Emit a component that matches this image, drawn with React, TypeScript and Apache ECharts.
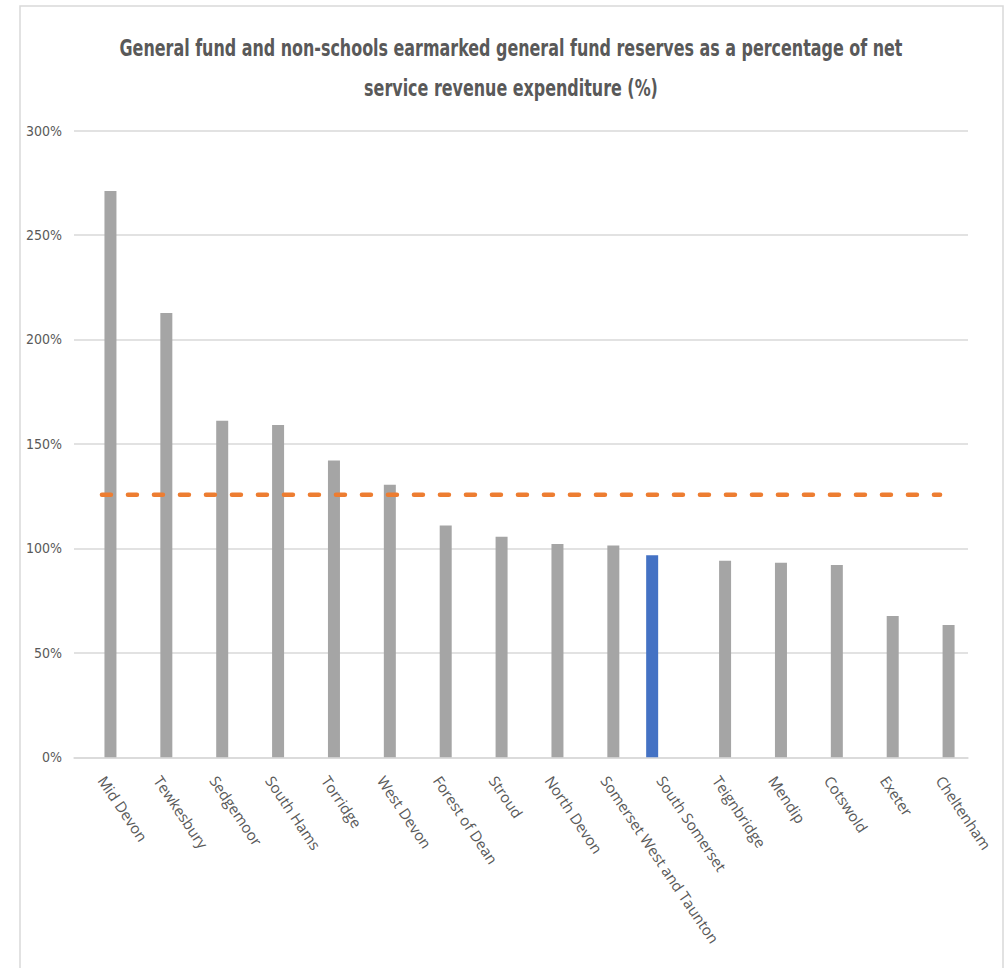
import React, { useEffect, useRef } from "react";
import * as echarts from "echarts";

const categories = [
  "Mid Devon", "Tewkesbury", "Sedgemoor", "South Hams", "Torridge", "West Devon",
  "Forest of Dean", "Stroud", "North Devon", "Somerset West and Taunton", "South Somerset",
  "Teignbridge", "Mendip", "Cotswold", "Exeter", "Cheltenham",
];
const otherCouncils = [271.1, 212.7, 161.1, 159.0, 142.1, 130.4, 111.0, 105.6, 102.1, 101.4, null, 94.1, 93.1, 92.0, 67.6, 63.3];
const southSomerset = [null, null, null, null, null, null, null, null, null, null, 96.7, null, null, null, null, null];
const averageValue = 125.7;
const averageLine = categories.map(() => averageValue);
const yTicks = { min: 0, max: 300, interval: 50 };
const titleLines = [
  "General fund and non-schools earmarked general fund reserves as a percentage of net",
  "service revenue expenditure (%)",
];

export default function App() {
  const ref = useRef<HTMLDivElement>(null);
  useEffect(() => {
    document.body.style.margin = "0";
    const chart = echarts.init(ref.current!, null, { renderer: "svg" });
    const titleFont = "'DejaVu Sans Condensed', 'DejaVu Sans', sans-serif";
    chart.setOption({
      animation: false,
      backgroundColor: "#ffffff",
      graphic: [
        {
          type: "rect",
          shape: { x: 20, y: 6, width: 983, height: 990 },
          style: { fill: "none", stroke: "#d9d9d9", lineWidth: 1.5 },
          silent: true,
          z: -1,
        },
        ...titleLines.map((t, i) => ({
          type: "text",
          x: 511,
          y: 48 + i * 40,
          scaleX: 0.77,
          style: {
            text: t,
            textAlign: "center",
            textVerticalAlign: "middle",
            fontFamily: titleFont,
            fontWeight: "bold",
            fontSize: 23,
            fill: "#595959",
          },
          silent: true,
        })),
      ],
      grid: { left: 74, right: 39, top: 130.5, bottom: 210.7, containLabel: false },
      xAxis: {
        type: "category",
        data: categories,
        axisLine: { show: true, lineStyle: { color: "#d9d9d9", width: 1.5 } },
        axisTick: { show: false },
        axisLabel: {
          interval: 0,
          rotate: -56,
          margin: 20,
          color: "#595959",
          fontFamily: "'Open Sans', sans-serif",
          fontSize: 15,
        },
      },
      yAxis: {
        type: "value",
        min: yTicks.min,
        max: yTicks.max,
        interval: yTicks.interval,
        axisLine: { show: false },
        axisTick: { show: false },
        splitLine: { lineStyle: { color: "#d9d9d9", width: 1.5 } },
        axisLabel: {
          formatter: "{value}%",
          margin: 12,
          color: "#595959",
          fontFamily: "'DejaVu Sans Condensed', sans-serif",
          fontSize: 14,
        },
      },
      series: [
        {
          name: "South Somerset",
          type: "bar",
          data: southSomerset,
          barWidth: 12,
          barGap: "42%",
          itemStyle: { color: "#4472c4" },
        },
        {
          name: "Other councils",
          type: "bar",
          data: otherCouncils,
          barWidth: 12,
          barGap: "42%",
          itemStyle: { color: "#a5a5a5" },
        },
        {
          name: "Average",
          type: "line",
          data: averageLine,
          symbol: "none",
          z: 5,
          lineStyle: { color: "#ed7d31", width: 4.5, type: [9, 17], cap: "round" },
        },
      ],
    });
    return () => chart.dispose();
  }, []);
  return <div ref={ref} style={{ width: 1007, height: 968 }} />;
}
